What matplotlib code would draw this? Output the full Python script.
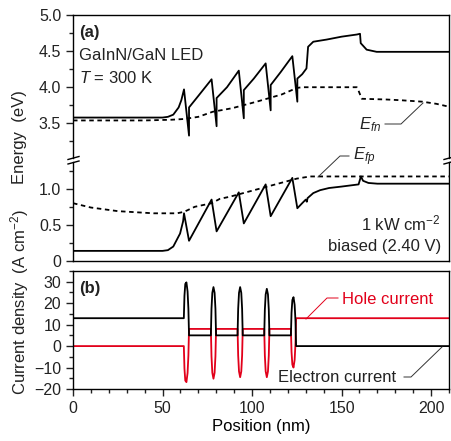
import matplotlib
matplotlib.use('Agg')
import matplotlib.pyplot as plt
from matplotlib.lines import Line2D
from matplotlib.ticker import MultipleLocator

plt.rcParams['font.family'] = ['Liberation Sans', 'DejaVu Sans']
plt.rcParams['mathtext.fontset'] = 'custom'
plt.rcParams['mathtext.rm'] = 'Liberation Sans'
plt.rcParams['mathtext.it'] = 'Liberation Sans:italic'
plt.rcParams['mathtext.bf'] = 'Liberation Sans:bold'
plt.rcParams['font.size'] = 12
plt.rcParams['axes.linewidth'] = 1.0
plt.rcParams['text.color'] = '#222222'
plt.rcParams['xtick.color'] = '#222222'
plt.rcParams['ytick.color'] = '#222222'

# --- band diagram (eV) ---
ec_x = [0, 50, 53, 56, 59, 60.5, 62.0, 64.8, 64.8, 70, 77.4, 80.2, 80.2, 86, 92.6, 95.4, 95.4,
        101, 107.6, 110.4, 110.4, 116, 122.5, 125.3, 125.3, 128, 130.4, 131.3, 134.2, 141.7,
        150, 158.6, 160.3, 160.7, 164, 169.6, 210]
ec_y = [3.58, 3.58, 3.59, 3.62, 3.72, 3.82, 3.97, 3.33, 3.72, 3.88, 4.11, 3.46, 3.85, 4.00, 4.23,
        3.57, 3.96, 4.12, 4.33, 3.68, 4.03, 4.21, 4.43, 3.80, 4.12, 4.18, 4.26, 4.56, 4.63, 4.66,
        4.70, 4.73, 4.74, 4.61, 4.52, 4.49, 4.49]

efn_x = [0, 40, 55, 62, 70, 78, 89, 102.6, 116.6, 125, 128, 158.5, 159.5, 161.3, 175, 183, 195, 203, 210]
efn_y = [3.54, 3.54, 3.55, 3.56, 3.59, 3.66, 3.71, 3.80, 3.90, 3.99, 4.00, 4.00, 3.95, 3.84, 3.83,
         3.82, 3.80, 3.77, 3.73]

ev_x = [0, 50, 53, 56, 59.8, 61.5, 62.0, 64.8, 77.4, 80.2, 92.6, 95.4, 107.6, 110.4, 122.5, 125.3,
        128, 130, 130.6, 131, 134.2, 138, 143, 150, 159.5, 160.8, 162, 165, 170, 210]
ev_y = [0.14, 0.14, 0.15, 0.20, 0.38, 0.55, 0.66, 0.28, 0.85, 0.41, 0.95, 0.52, 1.06, 0.62, 1.15,
        0.73, 0.80, 0.85, 0.82, 0.87, 0.94, 0.98, 1.01, 1.03, 1.06, 1.17, 1.11, 1.08, 1.07, 1.07]

efp_x = [0, 10, 25, 45, 58, 62, 68, 77.5, 82, 87.7, 102.6, 117.5, 125, 132.4, 140, 210]
efp_y = [0.80, 0.74, 0.69, 0.66, 0.66, 0.68, 0.75, 0.80, 0.86, 0.89, 0.99, 1.09, 1.14, 1.17, 1.17, 1.17]

# --- current density (A cm^-2) ---
well_start = [61.9, 77.0, 91.9, 106.8, 121.7]
well_end = [64.8, 79.9, 94.8, 109.7, 124.6]
elec_base = [13, 5, 5, 5, 5, 0]
elec_peak = [29.7, 27.5, 27.5, 26.7, 22.8]
hole_base = [0, 8, 8, 8, 8, 13]
hole_peak = [-16.8, -15.2, -14.5, -14.5, -10.0]
spike_pos = [0, 0.12, 0.28, 0.5, 0.72, 0.88, 1.0]
spike_shape = [0, 0.55, 0.88, 1.0, 0.88, 0.55, 0]
x_end = 210


def current_line(base, peak):
    xs, ys = [0.0], [base[0]]
    for i in range(len(well_start)):
        a, b = well_start[i], well_end[i]
        mid = (base[i] + base[i + 1]) / 2
        for p, s in zip(spike_pos, spike_shape):
            xs.append(a + p * (b - a))
            ys.append(base[i] + (base[i + 1] - base[i]) * p + s * (peak[i] - mid))
    xs.append(x_end)
    ys.append(base[-1])
    return xs, ys


W, H = 451, 441


def fx(x):
    return x / W


def fy(y):
    return 1 - y / H


fig = plt.figure(figsize=(W / 100, H / 100), dpi=100)
L, R = 73, 449
ax_up = fig.add_axes([fx(L), fy(158), fx(R - L), (158 - 15) / H])
ax_lo = fig.add_axes([fx(L), fy(261), fx(R - L), (261 - 162) / H])
ax_b = fig.add_axes([fx(L), fy(389), fx(R - L), (389 - 271) / H])

red = '#e2001a'
lw = 1.3
ax_up.plot(ec_x, ec_y, color='black', lw=lw)
ax_up.plot(efn_x, efn_y, color='black', lw=lw, ls=(0, (2.5, 2.0)))
ax_lo.plot(ev_x, ev_y, color='black', lw=lw)
ax_lo.plot(efp_x, efp_y, color='black', lw=lw, ls=(0, (2.5, 2.0)))

hx, hy = current_line(hole_base, hole_peak)
ex, ey = current_line(elec_base, elec_peak)
ax_b.plot(hx, hy, color=red, lw=lw)
ax_b.plot(ex, ey, color='black', lw=lw)

for ax in (ax_up, ax_lo, ax_b):
    ax.set_xlim(0, 210)
    ax.tick_params(which='both', direction='out', right=False, top=False, labelsize=11.5)
    ax.tick_params(which='major', length=5, width=1)
    ax.tick_params(which='minor', length=3, width=1)

ax_up.set_ylim(3.02, 5.0)
ax_up.yaxis.set_major_locator(MultipleLocator(0.5))
ax_up.yaxis.set_minor_locator(MultipleLocator(0.25))
ax_up.set_yticks([3.5, 4.0, 4.5, 5.0])
ax_up.set_yticklabels(['3.5', '4.0', '4.5', '5.0'])
ax_up.spines['bottom'].set_visible(False)
ax_up.tick_params(axis='x', which='both', bottom=False, labelbottom=False)

ax_lo.set_ylim(0, 1.37)
ax_lo.set_yticks([0, 0.5, 1.0])
ax_lo.set_yticklabels(['0', '0.5', '1.0'])
ax_lo.yaxis.set_minor_locator(MultipleLocator(0.25))
ax_lo.spines['top'].set_visible(False)
ax_lo.tick_params(axis='x', which='both', bottom=False, labelbottom=False)

ax_b.set_ylim(-20, 35)
ax_b.set_yticks([-20, -10, 0, 10, 20, 30])
ax_b.yaxis.set_minor_locator(MultipleLocator(5))
ax_b.set_xticks([0, 50, 100, 150, 200])
ax_b.xaxis.set_minor_locator(MultipleLocator(10))
ax_b.set_xlabel('Position (nm)', fontsize=12, labelpad=2)

# axis break marks
for xb in (L, R):
    for yb in (159.5, 164.0):
        fig.add_artist(Line2D([fx(xb - 5), fx(xb + 6)], [fy(yb), fy(yb - 3)],
                              transform=fig.transFigure, color='black', lw=1.0))

fig.text(fx(20), fy(137), 'Energy  (eV)', rotation=90, ha='center', va='center', fontsize=12)
fig.text(fx(20), fy(302), 'Current density  (A cm$^{-2}$)', rotation=90,
         ha='center', va='center', fontsize=12)

fig.text(fx(79), fy(33), '(a)', fontweight='bold', ha='left', va='center', fontsize=12)
fig.text(fx(79), fy(56), 'GaInN/GaN LED', ha='left', va='center', fontsize=12)
fig.text(fx(79), fy(78), '$T$ = 300 K', ha='left', va='center', fontsize=12)
fig.text(fx(441), fy(223), '1 kW cm$^{-2}$', ha='right', va='center', fontsize=12)
fig.text(fx(441), fy(247), 'biased (2.40 V)', ha='right', va='center', fontsize=12)
fig.text(fx(79), fy(289), '(b)', fontweight='bold', ha='left', va='center', fontsize=12)

fig.text(fx(359), fy(125), '$E_{fn}$', ha='left', va='center', fontsize=12)
fig.text(fx(353), fy(157), '$E_{fp}$', ha='left', va='center', fontsize=12)
fig.text(fx(342), fy(299), 'Hole current', color=red, ha='left', va='center', fontsize=12)
fig.text(fx(278), fy(377), 'Electron current', ha='left', va='center', fontsize=12)

leaders = [
    ([385, 401, 423], [124, 124, 103], '#333333'),
    ([349, 340, 318], [156, 156, 177], '#333333'),
    ([338, 327, 306], [298, 298, 319], red),
    ([404, 411, 442], [377, 377, 347], '#333333'),
]
for xs, ys, c in leaders:
    fig.add_artist(Line2D([fx(v) for v in xs], [fy(v) for v in ys],
                          transform=fig.transFigure, color=c, lw=0.7))

fig.savefig('out.png', dpi=100)
